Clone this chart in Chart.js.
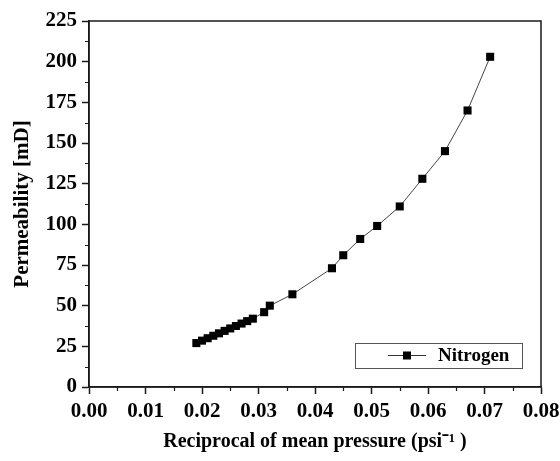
<!DOCTYPE html>
<html>
<head>
<meta charset="utf-8">
<title>Permeability vs reciprocal of mean pressure</title>
<script src="https://cdn.jsdelivr.net/npm/chart.js@4.4.1/dist/chart.umd.min.js"></script>
<style>
  html, body { margin: 0; padding: 0; background: #fff; }
  canvas { display: block; }
</style>
</head>
<body>
<canvas id="chart" width="560" height="461"></canvas>
<script>
// data
const seriesLabel = "Nitrogen";
const invPressure = [
  0.019, 0.020, 0.021, 0.022, 0.023, 0.024, 0.025, 0.026, 0.027, 0.028, 0.029,
  0.031, 0.032, 0.036, 0.043, 0.045, 0.048, 0.051, 0.055, 0.059, 0.063, 0.067, 0.071,
];
const permeability = [
  27, 28.5, 30, 31.5, 33, 34.5, 36, 37.5, 39, 40.5, 42,
  46, 50, 57, 73, 81, 91, 99, 111, 128, 145, 170, 203,
];
const xTicks = [0, 0.01, 0.02, 0.03, 0.04, 0.05, 0.06, 0.07, 0.08];
const yTicks = [0, 25, 50, 75, 100, 125, 150, 175, 200, 225];

const serif = "'Liberation Serif', 'Times New Roman', serif";
const ink = "#1a1a1a";

// frame around the plot + short minor ticks between the major ones
const framePlugin = {
  id: "frame",
  afterDraw(chart) {
    const { ctx, chartArea: a, scales } = chart;
    ctx.save();
    ctx.strokeStyle = ink;
    ctx.lineWidth = 1.5;
    ctx.strokeRect(a.left, a.top, a.right - a.left, a.bottom - a.top);

    ctx.lineWidth = 1.2;
    ctx.beginPath();
    for (let i = 0; i < xTicks.length - 1; i++) {
      const px = Math.round(scales.x.getPixelForValue((xTicks[i] + xTicks[i + 1]) / 2)) + 0.5;
      ctx.moveTo(px, a.bottom);
      ctx.lineTo(px, a.bottom + 4);
    }
    for (let i = 0; i < yTicks.length - 1; i++) {
      const py = Math.round(scales.y.getPixelForValue((yTicks[i] + yTicks[i + 1]) / 2)) + 0.5;
      ctx.moveTo(a.left, py);
      ctx.lineTo(a.left - 4, py);
    }
    ctx.stroke();
    ctx.restore();
  },
};

// boxed legend in the lower right of the plot
const legendBox = {
  id: "legendBox",
  afterDraw(chart) {
    const { ctx, chartArea: a } = chart;
    const w = 167, h = 25;
    const x = a.right - 19 - w;
    const y = a.bottom - 19 - h;
    const cy = y + h / 2;
    ctx.save();
    ctx.strokeStyle = "#555";
    ctx.lineWidth = 1;
    ctx.strokeRect(x + 0.5, y + 0.5, w, h);

    ctx.strokeStyle = "#333";
    ctx.beginPath();
    ctx.moveTo(x + 33, cy);
    ctx.lineTo(x + 71, cy);
    ctx.stroke();
    ctx.fillStyle = "#000";
    ctx.fillRect(x + 48, cy - 4, 8, 8);

    ctx.font = "bold 19px " + serif;
    ctx.textBaseline = "middle";
    ctx.fillText(seriesLabel, x + 83, cy + 1);
    ctx.restore();
  },
};

const points = invPressure.map((v, i) => ({ x: v, y: permeability[i] }));

new Chart(document.getElementById("chart"), {
  type: "line",
  data: {
    datasets: [
      {
        label: seriesLabel,
        data: points,
        borderColor: "#444",
        borderWidth: 1,
        pointStyle: "rect",
        pointRadius: 5.7,
        pointBackgroundColor: "#000",
        pointBorderColor: "#000",
        pointBorderWidth: 0,
        tension: 0,
      },
    ],
  },
  options: {
    responsive: false,
    animation: false,
    layout: { padding: { left: 0, top: 21, right: 19, bottom: 0 } },
    plugins: {
      legend: { display: false },
      tooltip: { enabled: false },
    },
    scales: {
      x: {
        type: "linear",
        min: 0,
        max: 0.08,
        afterBuildTicks: (s) => { s.ticks = xTicks.map((v) => ({ value: v })); },
        afterFit: (s) => { s.height = 74; s.paddingLeft = 0; s.paddingRight = 0; },
        border: { color: ink, width: 1.5 },
        grid: { drawOnChartArea: false, drawTicks: true, tickLength: 7, tickColor: ink, tickWidth: 1.5 },
        ticks: {
          color: "#000",
          padding: 5,
          maxRotation: 0,
          font: { family: serif, size: 21, weight: "bold" },
          callback: (v) => Number(v).toFixed(2),
        },
        title: {
          display: true,
          text: "Reciprocal of mean pressure (psi\u207B\u00B9 )",
          color: "#000",
          font: { family: serif, size: 20, weight: "bold" },
          padding: { top: 0, bottom: 7 },
        },
      },
      y: {
        type: "linear",
        min: 0,
        max: 225,
        afterBuildTicks: (s) => { s.ticks = yTicks.map((v) => ({ value: v })); },
        afterFit: (s) => { s.width = 89; s.paddingTop = 0; s.paddingBottom = 0; },
        border: { color: ink, width: 1.5 },
        grid: { drawOnChartArea: false, drawTicks: true, tickLength: 7, tickColor: ink, tickWidth: 1.5 },
        ticks: {
          color: "#000",
          padding: 5,
          font: { family: serif, size: 21, weight: "bold" },
        },
        title: {
          display: true,
          text: "Permeability [mD]",
          color: "#000",
          font: { family: serif, size: 21, weight: "bold" },
          padding: { top: 10, bottom: 0 },
        },
      },
    },
  },
  plugins: [framePlugin, legendBox],
});
</script>
</body>
</html>
